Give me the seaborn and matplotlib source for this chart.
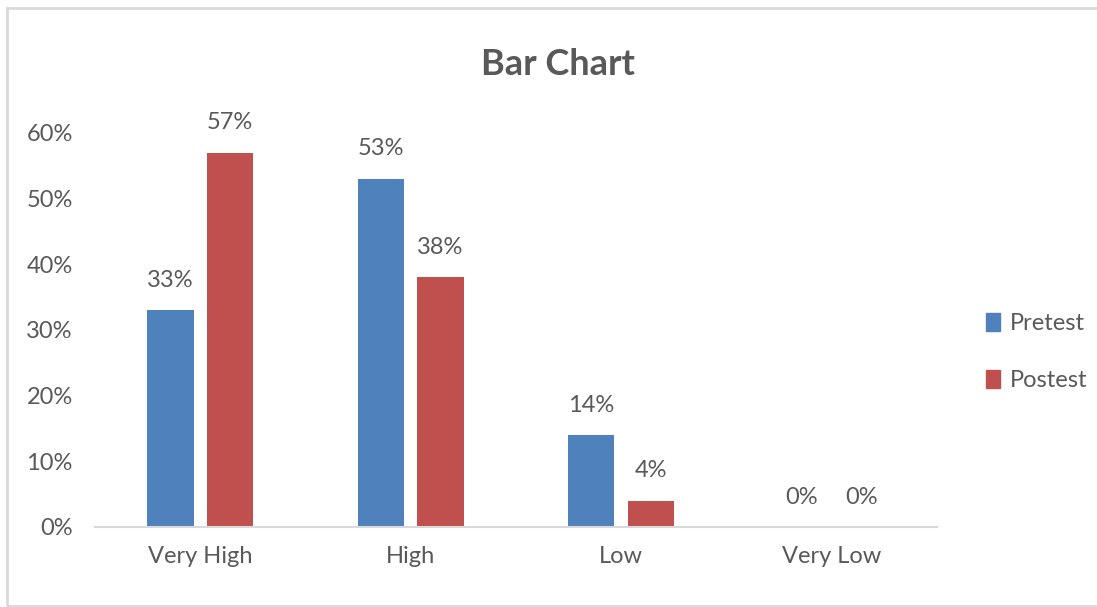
import pandas as pd
import numpy as np
import matplotlib.pyplot as plt
import matplotlib.patches as mpatches
import seaborn as sns

# 데이터
categories = ['Very High', 'High', 'Low', 'Very Low']
pretest = [0.33, 0.53, 0.14, 0.00]
postest = [0.57, 0.38, 0.04, 0.00]
groups = ['Pretest', 'Postest']
colors = ['#4F81BD', '#C0504D']

df = pd.DataFrame({
    'category': categories * 2,
    'value': pretest + postest,
    'group': ['Pretest'] * 4 + ['Postest'] * 4,
})

sns.set_style('white')
plt.rcParams['font.family'] = ['Lato', 'DejaVu Sans']
text_color = '#595959'

fig = plt.figure(figsize=(10.97, 6.07), dpi=100)
ax = fig.add_axes([0.0866, 0.1318, 0.7674, 0.6492])

sns.barplot(data=df, x='category', y='value', hue='group', palette=colors,
            width=0.568, gap=0.225, ax=ax, legend=False, saturation=1,
            linewidth=0)

# 값 라벨
for cont in ax.containers:
    labels = [f'{v * 100:.0f}%' for v in cont.datavalues]
    ax.bar_label(cont, labels=labels, padding=14, fontsize=17, color=text_color)

ax.set_xlim(-0.5, 3.5)
ax.set_ylim(0, 0.6)
ax.set_yticks(np.arange(0, 0.61, 0.1))
ax.set_yticklabels([f'{int(round(t * 100))}%' for t in np.arange(0, 0.61, 0.1)])
ax.set_xlabel('')
ax.set_ylabel('')
ax.tick_params(axis='both', length=0, labelsize=17, labelcolor=text_color)
ax.tick_params(axis='x', pad=14)
ax.tick_params(axis='y', pad=16)

for s in ['top', 'right', 'left']:
    ax.spines[s].set_visible(False)
ax.spines['bottom'].set_color('#d9d9d9')
ax.spines['bottom'].set_linewidth(1.5)

fig.text(0.509, 0.893, 'Bar Chart', ha='center', va='center', fontsize=26,
         fontweight='bold', color=text_color)

# 범례
handles = [mpatches.Patch(color=c, label=g) for c, g in zip(colors, groups)]
fig.legend(handles=handles, loc='center left', bbox_to_anchor=(0.879, 0.42),
           frameon=False, fontsize=17, handlelength=0.6, handleheight=0.8,
           handletextpad=0.45, labelspacing=1.5, labelcolor=text_color)

# 테두리
fig.patches.append(mpatches.Rectangle((7 / 1097, 1 / 607), 1.2, 598 / 607,
                                      transform=fig.transFigure, fill=False,
                                      edgecolor='#d9d9d9', linewidth=2))

fig.savefig('out.png', dpi=100)
